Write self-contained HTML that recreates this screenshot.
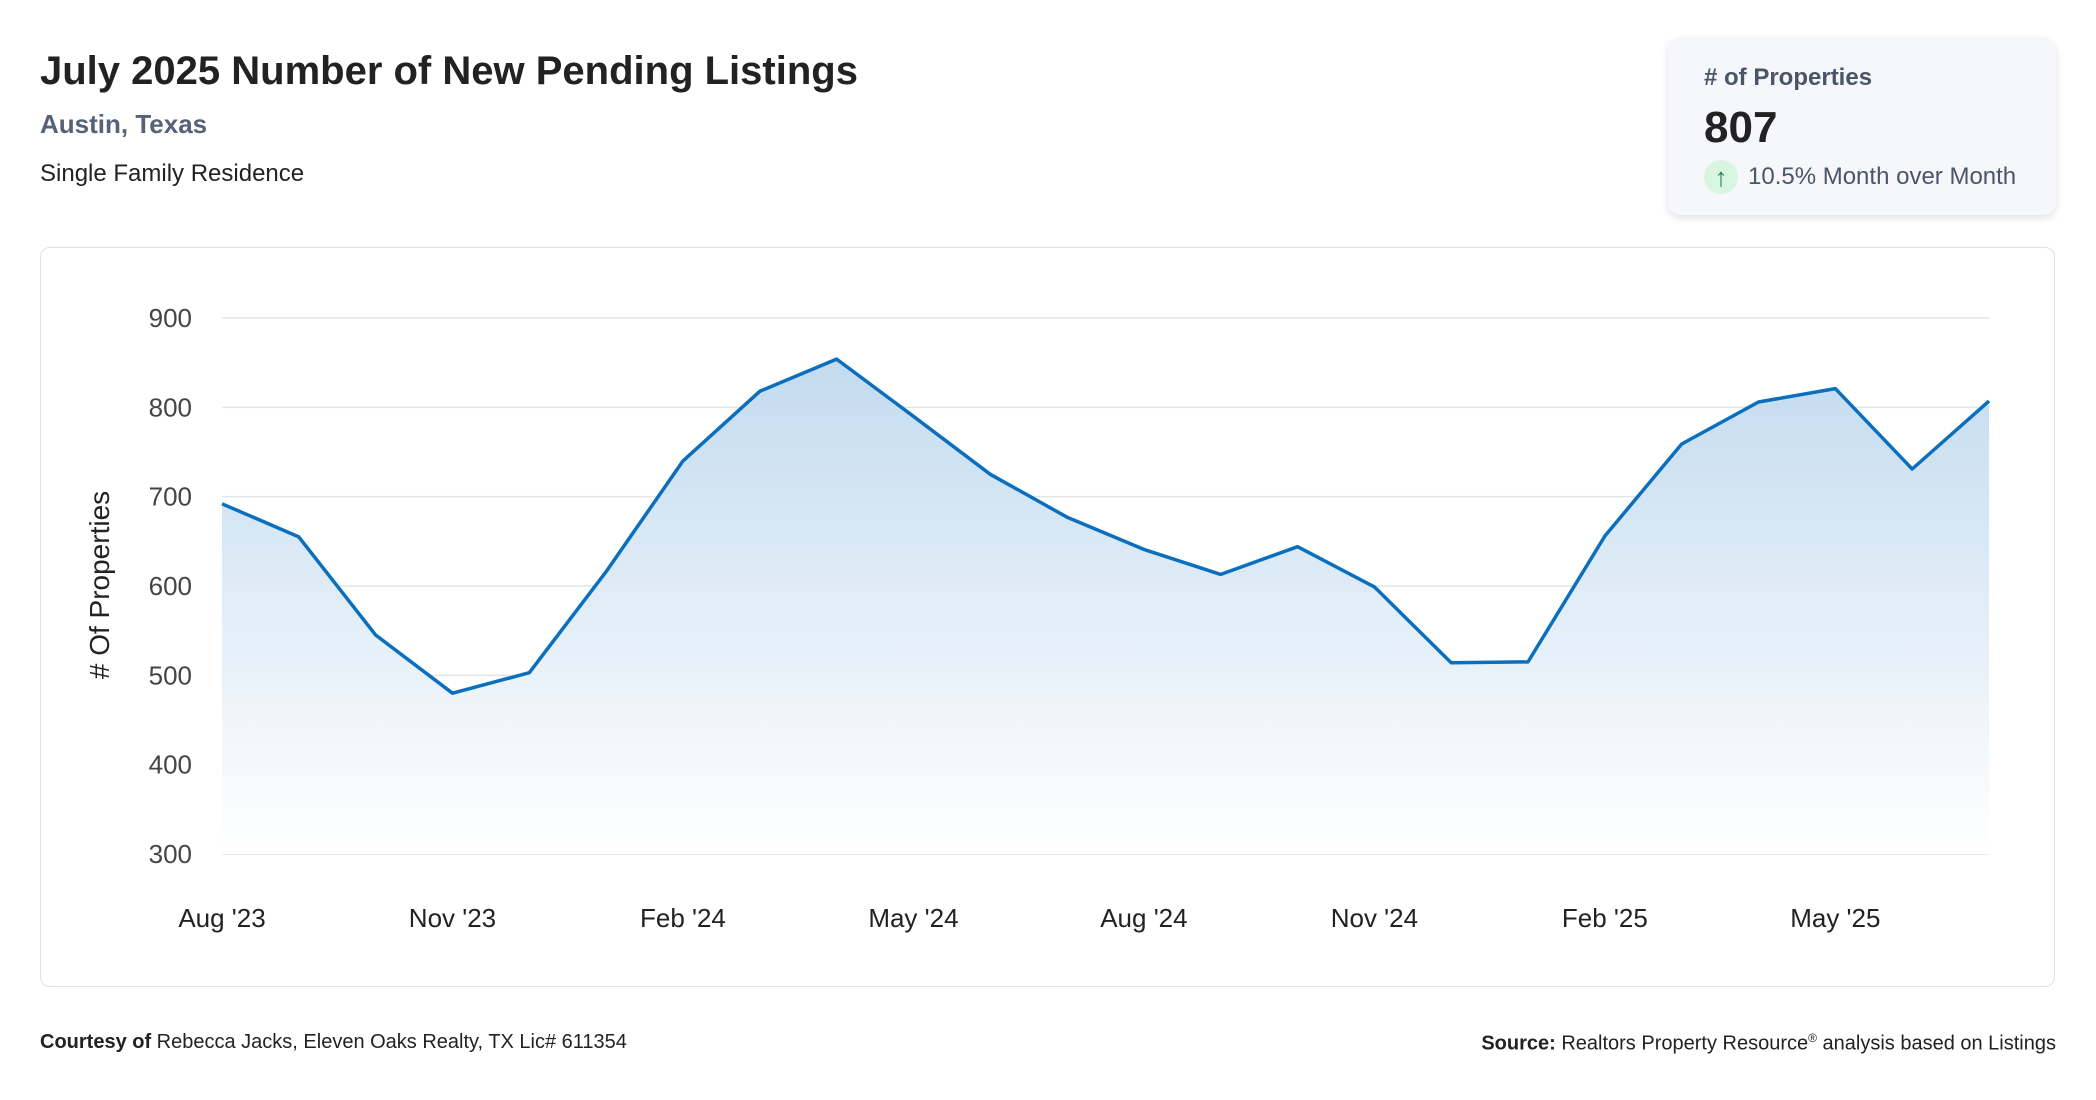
<!DOCTYPE html>
<html><head><meta charset="utf-8"><style>
body{margin:0;width:2096px;height:1100px;background:#fff;font-family:"Liberation Sans",sans-serif;position:relative;overflow:hidden}
.abs{position:absolute;white-space:nowrap}
</style></head><body>
<div class="abs" style="left:40px;top:49px;font-size:40px;font-weight:bold;color:#222">July 2025 Number of New Pending Listings</div>
<div class="abs" style="left:40px;top:109px;font-size:26px;font-weight:bold;color:#556277">Austin, Texas</div>
<div class="abs" style="left:40px;top:160px;font-size:24px;color:#222">Single Family Residence</div>
<div class="abs" style="left:1668px;top:38px;width:388px;height:177px;background:#f5f7fa;border-radius:12px;box-shadow:0 3px 8px rgba(0,0,0,0.12)">
 <div class="abs" style="left:36px;top:26px;font-size:24px;font-weight:bold;color:#4a5568"># of Properties</div>
 <div class="abs" style="left:36px;top:65px;font-size:44px;font-weight:bold;color:#222">807</div>
 <div class="abs" style="left:36px;top:122px;width:34px;height:34px;border-radius:50%;background:#d7f5e1;color:#1f8a4c;font-size:26px;line-height:34px;text-align:center">↑</div>
 <div class="abs" style="left:80px;top:125px;font-size:24px;color:#4a5568">10.5% Month over Month</div>
</div>
<div class="abs" style="left:40px;top:247px;width:2013px;height:738px;border:1.5px solid #dde1e6;border-radius:10px"></div>
<svg class="abs" style="left:0;top:0" width="2096" height="1100">
<defs><linearGradient id="g" x1="0" y1="0" x2="0" y2="1"><stop offset="0" stop-color="#c3dbef"/><stop offset="1" stop-color="#ffffff"/></linearGradient></defs>
<g id="grid"></g><path id="area" fill="url(#g)"/><path id="line" fill="none" stroke="#0b6fbd" stroke-width="3.5" stroke-linejoin="round"/><g id="labels"></g>
<text x="109" y="585" transform="rotate(-90 109 585)" text-anchor="middle" font-size="28" fill="#222"># Of Properties</text>
</svg>
<div class="abs" style="left:40px;top:1031px;font-size:20px;color:#222"><b>Courtesy of</b> Rebecca Jacks, Eleven Oaks Realty, TX Lic# 611354</div>
<div class="abs" style="right:40px;top:1031px;font-size:20px;color:#222"><b>Source:</b> Realtors Property Resource<sup style="font-size:12px">®</sup> analysis based on Listings</div>
<script>
const months=["Aug '23","Sep '23","Oct '23","Nov '23","Dec '23","Jan '24","Feb '24","Mar '24","Apr '24","May '24","Jun '24","Jul '24","Aug '24","Sep '24","Oct '24","Nov '24","Dec '24","Jan '25","Feb '25","Mar '25","Apr '25","May '25","Jun '25","Jul '25"];
const values=[692,655,545,480,503,616,740,818,854,790,725,677,641,613,644,599,514,515,656,759,806,821,731,807];
const yTicks=[300,400,500,600,700,800,900];
const xTickIdx=[0,3,6,9,12,15,18,21];
const X0=222,X1=1989,Y0=854,Y1=318,VMIN=300,VMAX=900;
const x=i=>X0+(X1-X0)*i/(months.length-1);
const y=v=>Y0-(v-VMIN)/(VMAX-VMIN)*(Y0-Y1);
const NS="http://www.w3.org/2000/svg";
const grid=document.getElementById('grid'),lab=document.getElementById('labels');
yTicks.forEach(t=>{
 const l=document.createElementNS(NS,'line');
 
 
 l.setAttribute('x1',X0);l.setAttribute('x2',X1);l.setAttribute('y1',y(t));l.setAttribute('y2',y(t));
 l.setAttribute('stroke','#e2e5e9');l.setAttribute('stroke-width','1.5');grid.appendChild(l);
 const tx=document.createElementNS(NS,'text');
 
 
 tx.setAttribute('x',192);tx.setAttribute('y',y(t)+9);tx.setAttribute('text-anchor','end');
 tx.setAttribute('font-size','26');tx.setAttribute('fill','#444');tx.textContent=t;lab.appendChild(tx);
});
xTickIdx.forEach(i=>{
 const tx=document.createElementNS(NS,'text');
 
 
 tx.setAttribute('x',x(i));tx.setAttribute('y',927);tx.setAttribute('text-anchor','middle');
 tx.setAttribute('font-size','26');tx.setAttribute('fill','#222');tx.textContent=months[i];lab.appendChild(tx);
});
const pts=values.map((v,i)=>x(i).toFixed(1)+','+y(v).toFixed(1));
document.getElementById('line').setAttribute('d','M'+pts.join('L'));
document.getElementById('area').setAttribute('d','M'+X0+','+Y0+'L'+pts.join('L')+'L'+x(values.length-1)+','+Y0+'Z');
</script>
</body></html>
